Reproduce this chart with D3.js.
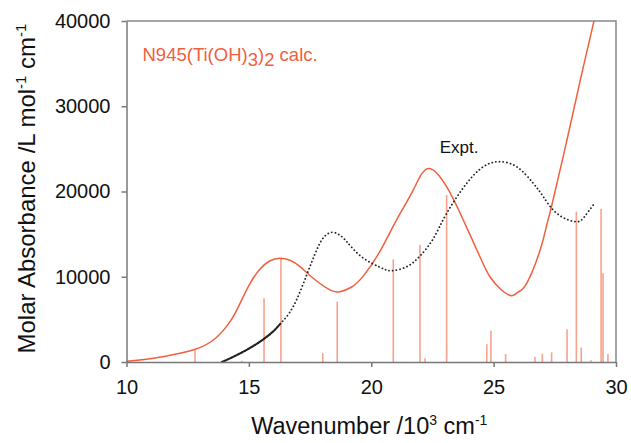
<!DOCTYPE html>
<html>
<head>
<meta charset="utf-8">
<script src="https://cdn.jsdelivr.net/npm/d3@7"></script>
<style>
  body { margin: 0; background: #fff; }
  svg { font-family: Arial, "Liberation Sans", sans-serif; }
  .axis path, .axis line { stroke: #777; stroke-width: 1.5; }
  .axis text { fill: #111; font-size: 20px; }
</style>
</head>
<body>
<div id="chart"></div>
<script>
// calculated spectrum (broadened)
const calcX = [10.0, 11.1, 12.19, 12.81, 13.55, 14.23, 14.64, 15.05, 15.46, 15.85, 16.27, 16.7, 17.09, 17.63, 18.31, 18.72, 19.2, 19.68, 20.36, 21.04, 21.72, 22.33, 23.08, 23.76, 24.44, 24.85, 25.3, 25.74, 26.0, 26.35, 26.9, 27.17, 27.37, 28.04, 28.6, 29.1, 29.3];
const calcY = [80, 430, 1020, 1490, 2580, 4730, 6880, 9230, 10910, 11850, 12180, 11900, 11180, 9820, 8450, 8250, 8800, 10100, 13000, 16700, 20200, 22700, 20560, 16660, 12350, 10000, 8500, 7780, 8200, 9230, 13140, 16070, 18300, 26600, 33800, 40000, 42500];

// calculated transitions (sticks)
const stickX = [12.80, 14.71, 15.62, 16.31, 18.02, 18.61, 20.90, 21.99, 22.20, 23.08, 24.72, 24.89, 25.49, 26.69, 26.99, 27.37, 28.00, 28.38, 28.58, 28.98, 29.39, 29.47, 29.67];
const stickY = [1490, 150, 7470, 12160, 1050, 7080, 12040, 13720, 450, 19590, 2090, 3680, 940, 620, 980, 1130, 3830, 17630, 1680, 200, 17950, 10400, 940];

// experimental spectrum
const exptX = [13.89, 14.23, 14.91, 15.59, 16.0, 16.31, 16.81, 17.36, 17.77, 18.05, 18.38, 18.7, 19.0, 19.6, 20.36, 20.83, 21.45, 21.99, 22.54, 23.08, 23.9, 24.58, 25.19, 25.94, 26.62, 27.03, 27.58, 28.33, 28.7, 29.07];
const exptY = [0, 430, 1410, 2660, 3600, 4570, 6490, 10200, 13140, 14600, 15210, 14900, 14110, 12350, 11110, 10710, 11180, 12430, 14500, 17440, 20960, 22910, 23490, 22910, 20960, 19390, 17440, 16460, 17000, 18420];

const xTicks = [10, 15, 20, 25, 30];
const yTicks = [0, 10000, 20000, 30000, 40000];

const W = 631, H = 443;
const margin = { top: 21, right: 15, bottom: 81, left: 126.5 };
const width = W - margin.left - margin.right,
    height = H - margin.top - margin.bottom;

const svg = d3.select("#chart").append("svg")
    .attr("width", W)
    .attr("height", H)
    .append("g")
    .attr("transform", "translate(" + margin.left + "," + margin.top + ")");

const x = d3.scaleLinear().domain([10, 30]).range([0, width]);
const y = d3.scaleLinear().domain([0, 40000]).range([height, 0]);

svg.append("clipPath").attr("id", "clip")
    .append("rect").attr("width", width).attr("height", height);

// frame (top and right)
svg.append("path")
    .attr("d", "M0,0H" + width + "V" + height)
    .attr("fill", "none")
    .attr("stroke", "#888")
    .attr("stroke-width", 1.5);

// sticks
svg.append("g").selectAll("line")
    .data(stickX.map((d, i) => ({ x: d, y: stickY[i] })))
    .enter().append("line")
    .attr("x1", d => x(d.x)).attr("x2", d => x(d.x))
    .attr("y1", y(0)).attr("y2", d => y(d.y))
    .attr("stroke", "#f47a5c")
    .attr("stroke-opacity", 0.7)
    .attr("stroke-width", 1.6);

// calc curve
const calc = calcX.map((d, i) => [d, calcY[i]]);
svg.append("path")
    .datum(calc)
    .attr("clip-path", "url(#clip)")
    .attr("fill", "none")
    .attr("stroke", "#f0603f")
    .attr("stroke-width", 1.5)
    .attr("d", d3.line().x(d => x(d[0])).y(d => y(d[1])).curve(d3.curveNatural));

// experimental curve: dotted, solid at the low-energy end
const expt = exptX.map((d, i) => [d, exptY[i]]);
const exLine = d3.line().x(d => x(d[0])).y(d => y(d[1])).curve(d3.curveNatural);
svg.append("path")
    .datum(expt)
    .attr("fill", "none")
    .attr("stroke", "#222")
    .attr("stroke-width", 1.8)
    .attr("stroke-linecap", "round")
    .attr("stroke-dasharray", "0.1,3.6")
    .attr("d", exLine);
svg.append("path")
    .datum(expt.filter(d => d[0] <= 16.35))
    .attr("fill", "none")
    .attr("stroke", "#222")
    .attr("stroke-width", 2)
    .attr("d", exLine);

// axes
svg.append("g")
    .attr("class", "x-axis axis")
    .attr("transform", "translate(0," + height + ")")
    .call(d3.axisBottom(x).tickValues(xTicks).tickSize(5).tickSizeOuter(0).tickPadding(13));

svg.append("g")
    .attr("class", "y-axis axis")
    .call(d3.axisLeft(y).tickValues(yTicks).tickFormat(d3.format("d")).tickSize(5).tickSizeOuter(0).tickPadding(11));

// axis titles
const xt = svg.append("text")
    .attr("x", width / 2 - 2)
    .attr("y", height + 72)
    .attr("text-anchor", "middle")
    .attr("font-size", 23.5)
    .attr("fill", "#111");
xt.append("tspan").text("Wavenumber /10");
xt.append("tspan").attr("dy", -9).attr("font-size", 14).text("3");
xt.append("tspan").attr("dy", 9).text(" cm");
xt.append("tspan").attr("dy", -9).attr("font-size", 14).text("-1");

const yt = svg.append("text")
    .attr("transform", "translate(-92," + (height / 2 - 3) + ") rotate(-90)")
    .attr("text-anchor", "middle")
    .attr("font-size", 24)
    .attr("fill", "#111");
yt.append("tspan").text("Molar Absorbance /L mol");
yt.append("tspan").attr("dy", -9).attr("font-size", 15).text("-1");
yt.append("tspan").attr("dy", 9).text(" cm");
yt.append("tspan").attr("dy", -9).attr("font-size", 15).text("-1");

// labels
const lab = svg.append("text")
    .attr("x", 16)
    .attr("y", 40)
    .attr("font-size", 18.5)
    .attr("fill", "#f0603f");
lab.append("tspan").text("N945(Ti(OH)");
lab.append("tspan").attr("dy", 5).text("3");
lab.append("tspan").attr("dy", -5).text(")");
lab.append("tspan").attr("dy", 5).text("2");
lab.append("tspan").attr("dy", -5).text(" calc.");

svg.append("text")
    .attr("x", x(22.8))
    .attr("y", y(24500))
    .attr("font-size", 17)
    .attr("fill", "#111")
    .text("Expt.");
</script>
</body>
</html>
